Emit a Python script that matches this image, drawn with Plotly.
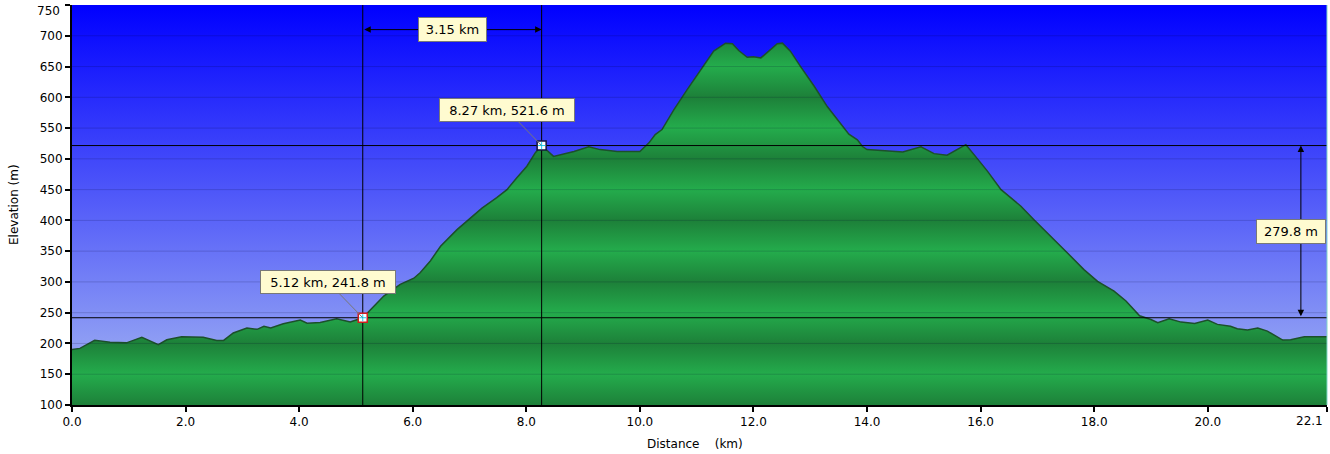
import plotly.graph_objects as go

# elevation profile
DIST_KM = [0.00, 0.14, 0.40, 0.67, 0.96, 1.23, 1.52, 1.67, 1.93, 2.31, 2.55, 2.67,
           2.84, 3.08, 3.26, 3.38, 3.50, 3.72, 4.02, 4.14, 4.37, 4.66, 4.90, 5.12,
           5.49, 5.78, 6.02, 6.13, 6.31, 6.49, 6.78, 7.01, 7.22, 7.48, 7.66, 7.83,
           8.01, 8.16, 8.27, 8.48, 8.84, 9.10, 9.30, 9.60, 10.00, 10.16, 10.27, 10.39,
           10.60, 10.83, 11.07, 11.30, 11.51, 11.63, 11.74, 11.89, 12.00, 12.13, 12.27,
           12.42, 12.51, 12.65, 12.83, 13.07, 13.30, 13.54, 13.68, 13.83, 13.92, 14.00,
           14.47, 14.63, 14.95, 15.18, 15.41, 15.59, 15.74, 15.91, 16.12, 16.36, 16.71,
           16.94, 17.24, 17.53, 17.82, 18.06, 18.35, 18.56, 18.80, 19.00, 19.12, 19.32,
           19.53, 19.77, 20.00, 20.17, 20.40, 20.52, 20.70, 20.88, 21.05, 21.32, 21.46,
           21.70, 22.10]
ELEV_M = [190, 192, 205, 202, 201, 210, 198, 206, 211, 210, 205, 205,
          217, 225, 223, 228, 225, 232, 238, 233, 234, 240, 235, 241.8,
          277, 296, 306, 315, 334, 358, 385, 404, 420, 437, 450, 469,
          488, 510, 521.6, 504, 512, 519.5, 515, 512, 512, 526, 539.5, 547.6,
          580, 612, 645, 675, 688, 687, 676, 665, 666, 664, 675,
          687, 688, 675, 650, 618, 585, 556, 540, 531, 520, 515,
          512, 511, 519.5, 508.5, 506, 515, 523, 504, 480, 450, 423,
          401, 374, 347, 320, 301, 285, 269, 245, 239, 233.6, 240,
          234.7, 232.6, 238, 231, 228, 224, 222, 225, 220, 205.5, 206,
          211, 211]

# the two picked points
MARK_KM = [5.12, 8.27]
MARK_ELEV = [241.8, 521.6]
MARK_EDGE = ['rgb(210,30,30)', 'rgb(20,20,60)']

X_RANGE = [0, 22.1]
Y_RANGE = [100, 750]
X_TICKS = [0, 2, 4, 6, 8, 10, 12, 14, 16, 18, 20, 22.1]
Y_TICKS = [100, 150, 200, 250, 300, 350, 400, 450, 500, 550, 600, 650, 700, 750]

DIST_ARROW_Y = 710      # height of the distance measure arrow
DIFF_ARROW_X = 21.64    # position of the elevation difference arrow

FONT = 'Verdana, DejaVu Sans'
BOX_BG = 'rgb(255,251,208)'
BOX_EDGE = 'rgb(120,120,120)'

fig = go.Figure()

# sky
fig.add_trace(go.Scatter(
    x=[X_RANGE[0], X_RANGE[1], X_RANGE[1], X_RANGE[0]],
    y=[Y_RANGE[0], Y_RANGE[0], Y_RANGE[1], Y_RANGE[1]],
    fill='toself', mode='none', hoverinfo='skip', showlegend=False,
    fillgradient=dict(type='vertical', start=Y_RANGE[0], stop=Y_RANGE[1],
                      colorscale=[[0, 'rgb(168,186,242)'], [1, 'rgb(0,0,255)']])))

# banded green terrain: dark on the hundreds, light on the fifties
span = Y_RANGE[1] - Y_RANGE[0]
bands = []
for v in Y_TICKS:
    c = 'rgb(29,128,57)' if v % 100 == 0 else 'rgb(36,172,76)'
    bands.append([(v - Y_RANGE[0]) / span, c])

fig.add_trace(go.Scatter(
    x=DIST_KM, y=ELEV_M, mode='lines', fill='tozeroy',
    line=dict(color='rgb(28,80,42)', width=1.5),
    fillgradient=dict(type='vertical', start=Y_RANGE[0], stop=Y_RANGE[1],
                      colorscale=bands),
    hoverinfo='skip', showlegend=False))

# horizontal grid over everything
gx, gy = [], []
for v in Y_TICKS[1:-1]:
    gx += [X_RANGE[0], X_RANGE[1], None]
    gy += [v, v, None]
fig.add_trace(go.Scatter(x=gx, y=gy, mode='lines',
                         line=dict(color='rgba(0,0,50,0.17)', width=1),
                         hoverinfo='skip', showlegend=False))

# guide lines through the picked points
lx, ly = [], []
for k, e in zip(MARK_KM, MARK_ELEV):
    lx += [k, k, None, X_RANGE[0], X_RANGE[1], None]
    ly += [Y_RANGE[0], Y_RANGE[1], None, e, e, None]
fig.add_trace(go.Scatter(x=lx, y=ly, mode='lines',
                         line=dict(color='black', width=1),
                         hoverinfo='skip', showlegend=False))

fig.add_trace(go.Scatter(
    x=MARK_KM, y=MARK_ELEV, mode='markers',
    marker=dict(symbol='square', size=9, color='white',
                line=dict(color=MARK_EDGE, width=1.5)),
    hoverinfo='skip', showlegend=False))
fig.add_trace(go.Scatter(
    x=MARK_KM, y=MARK_ELEV, mode='markers',
    marker=dict(symbol='cross-thin-open', size=5, line=dict(color='black', width=1)),
    hoverinfo='skip', showlegend=False))

ann = []
# point callouts
for k, e in zip(MARK_KM, MARK_ELEV):
    ann.append(dict(x=k, y=e, xref='x', yref='y', text=f'{k:.2f} km, {e:.1f} m',
                    showarrow=True, arrowhead=0, arrowwidth=1, arrowcolor=BOX_EDGE,
                    ax=-35, ay=-36, bgcolor=BOX_BG, bordercolor=BOX_EDGE,
                    borderwidth=1, borderpad=1, width=132, height=20,
                    font=dict(family=FONT, size=13, color='black')))

# distance measure
ann.append(dict(x=MARK_KM[1], y=DIST_ARROW_Y, ax=MARK_KM[0], ay=DIST_ARROW_Y,
                xref='x', yref='y', axref='x', ayref='y', text='',
                showarrow=True, arrowhead=2, arrowside='end+start', arrowsize=1.3,
                arrowwidth=1, arrowcolor='black', standoff=0, startstandoff=0))
ann.append(dict(x=(MARK_KM[0] + MARK_KM[1]) / 2, y=DIST_ARROW_Y, xref='x', yref='y',
                text=f'{MARK_KM[1] - MARK_KM[0]:.2f} km', showarrow=False,
                bgcolor=BOX_BG, bordercolor=BOX_EDGE, borderwidth=1, borderpad=1,
                width=65, height=21, font=dict(family=FONT, size=13, color='black')))

# elevation difference measure
ann.append(dict(x=DIFF_ARROW_X, y=MARK_ELEV[1], ax=DIFF_ARROW_X, ay=MARK_ELEV[0],
                xref='x', yref='y', axref='x', ayref='y', text='',
                showarrow=True, arrowhead=2, arrowside='end+start', arrowsize=1.3,
                arrowwidth=1, arrowcolor='black', standoff=0, startstandoff=0))
ann.append(dict(x=DIFF_ARROW_X, y=(MARK_ELEV[0] + MARK_ELEV[1]) / 2, xref='x', yref='y',
                xshift=-10, text=f'{MARK_ELEV[1] - MARK_ELEV[0]:.1f} m', showarrow=False,
                bgcolor=BOX_BG, bordercolor=BOX_EDGE, borderwidth=1, borderpad=1,
                width=66, height=21, font=dict(family=FONT, size=13, color='black')))

# last x tick label sits left of its tick
ann.append(dict(x=X_TICKS[-1], y=0, xref='x', yref='paper', text=f'{X_TICKS[-1]:.1f}',
                showarrow=False, xanchor='right', yanchor='top', xshift=-2, yshift=-7,
                font=dict(family=FONT, size=12, color='black')))
# top y tick label hangs just below its tick so it stays on the page
ann.append(dict(x=0, y=Y_TICKS[-1], xref='paper', yref='y', text=f'{Y_TICKS[-1]}',
                showarrow=False, xanchor='right', yanchor='top', xshift=-10, yshift=3,
                font=dict(family=FONT, size=12, color='black')))

# axis titles
ann.append(dict(x=0.5, y=0, xref='paper', yref='paper', text='Distance\u00a0\u00a0\u00a0\u00a0(km)',
                showarrow=False, xanchor='center', yanchor='middle', xshift=-5, yshift=-39,
                font=dict(family=FONT, size=12, color='black')))
ann.append(dict(x=0, y=0.5, xref='paper', yref='paper', text='Elevation\u00a0(m)',
                showarrow=False, textangle=-90, xanchor='center', yanchor='middle',
                xshift=-58, font=dict(family=FONT, size=12, color='black')))

fig.update_layout(
    width=1330, height=454,
    margin=dict(l=72, r=3, t=5, b=49),
    paper_bgcolor='white', plot_bgcolor='white',
    font=dict(family=FONT, size=12, color='black'),
    annotations=ann,
    shapes=[dict(type='line', xref='paper', yref='paper', x0=1, x1=1, y0=0, y1=1,
                 line=dict(color='rgb(130,215,200)', width=1), layer='above')],
    xaxis=dict(range=X_RANGE, tickvals=X_TICKS,
               ticktext=[f'{v:.1f}' for v in X_TICKS[:-1]] + [''],
               ticks='outside', ticklen=5, tickwidth=2, tickcolor='black',
               showline=True, linecolor='black', linewidth=2,
               showgrid=False, zeroline=False, automargin=False, layer='above traces'),
    yaxis=dict(range=Y_RANGE, tickvals=Y_TICKS,
               ticktext=[str(v) for v in Y_TICKS[:-1]] + [''],
               ticks='outside', ticklen=5, tickwidth=2, tickcolor='black',
               showline=True, linecolor='black', linewidth=2,
               showgrid=False, zeroline=False, automargin=False, layer='above traces'),
)

fig.write_html('out.html', config={'displayModeBar': False},
               post_script="document.body.style.margin='0';")
